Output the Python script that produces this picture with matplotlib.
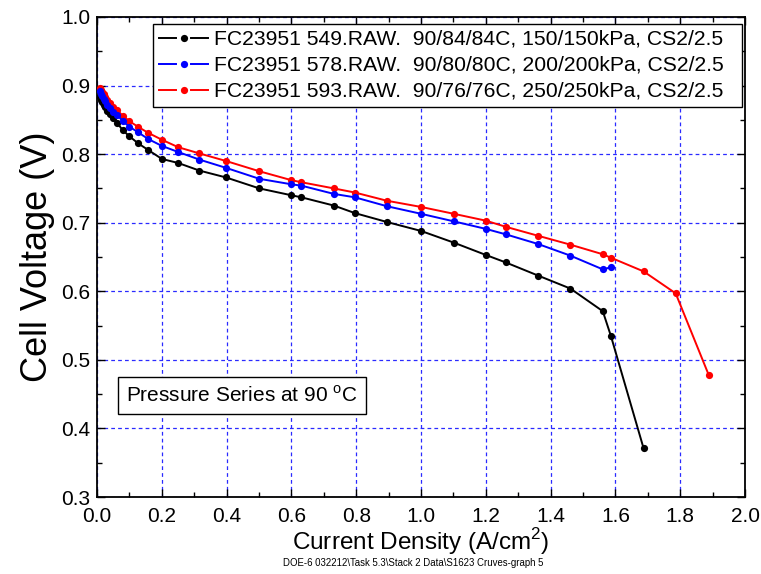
import matplotlib
matplotlib.use("Agg")
import matplotlib.pyplot as plt
from matplotlib.ticker import MultipleLocator
from matplotlib.legend_handler import HandlerBase
from matplotlib.lines import Line2D

plt.rcParams['font.family'] = ['Liberation Sans', 'DejaVu Sans']
plt.rcParams['mathtext.fontset'] = 'custom'
plt.rcParams['mathtext.rm'] = 'Liberation Sans'

# Current density (A/cm2) and cell voltage (V) for each pressure condition
current_549 = [0.010, 0.0126, 0.0158, 0.020, 0.025, 0.0316, 0.040, 0.050, 0.063, 0.079,
               0.100, 0.126, 0.158, 0.200, 0.251, 0.316, 0.398, 0.501, 0.600, 0.631,
               0.731, 0.796, 0.895, 1.000, 1.101, 1.200, 1.262, 1.361, 1.461, 1.561,
               1.586, 1.687]
voltage_549 = [0.883, 0.879, 0.876, 0.872, 0.868, 0.863, 0.858, 0.852, 0.845, 0.835,
               0.826, 0.816, 0.806, 0.793, 0.787, 0.776, 0.766, 0.750, 0.740, 0.737,
               0.725, 0.714, 0.701, 0.688, 0.671, 0.653, 0.642, 0.623, 0.604, 0.571,
               0.535, 0.371]

current_578 = [0.010, 0.0126, 0.0158, 0.020, 0.025, 0.0316, 0.040, 0.050, 0.063, 0.079,
               0.100, 0.126, 0.158, 0.200, 0.251, 0.316, 0.398, 0.501, 0.600, 0.631,
               0.731, 0.796, 0.895, 1.000, 1.101, 1.200, 1.262, 1.361, 1.461, 1.561,
               1.586]
voltage_578 = [0.892, 0.888, 0.885, 0.881, 0.877, 0.872, 0.867, 0.862, 0.857, 0.848,
               0.840, 0.832, 0.822, 0.812, 0.803, 0.792, 0.780, 0.764, 0.756, 0.754,
               0.742, 0.737, 0.724, 0.713, 0.702, 0.691, 0.683, 0.669, 0.652, 0.632,
               0.635]

current_593 = [0.010, 0.0126, 0.0158, 0.020, 0.025, 0.0316, 0.040, 0.050, 0.063, 0.079,
               0.100, 0.126, 0.158, 0.200, 0.251, 0.316, 0.398, 0.501, 0.600, 0.631,
               0.731, 0.796, 0.895, 1.000, 1.101, 1.200, 1.262, 1.361, 1.461, 1.561,
               1.586, 1.687, 1.786, 1.888]
voltage_593 = [0.897, 0.894, 0.891, 0.887, 0.883, 0.879, 0.874, 0.869, 0.864, 0.856,
               0.848, 0.840, 0.831, 0.821, 0.810, 0.801, 0.790, 0.775, 0.762, 0.759,
               0.750, 0.744, 0.732, 0.723, 0.713, 0.703, 0.694, 0.681, 0.668, 0.654,
               0.649, 0.629, 0.597, 0.478]

labels = [
    "FC23951 549.RAW.  90/84/84C, 150/150kPa, CS2/2.5",
    "FC23951 578.RAW.  90/80/80C, 200/200kPa, CS2/2.5",
    "FC23951 593.RAW.  90/76/76C, 250/250kPa, CS2/2.5",
]
colors = ["#000000", "#0000ff", "#ff0000"]

x_ticks = [0.0, 0.2, 0.4, 0.6, 0.8, 1.0, 1.2, 1.4, 1.6, 1.8, 2.0]
y_ticks = [0.3, 0.4, 0.5, 0.6, 0.7, 0.8, 0.9, 1.0]


class BrokenLineHandler(HandlerBase):
    """Legend key drawn as: line segment, marker, line segment."""

    def create_artists(self, legend, orig_handle, xdescent, ydescent,
                       width, height, fontsize, trans):
        y = height / 2.0 - ydescent
        x0 = -xdescent
        gap = width * 0.16
        mid = x0 + width / 2.0
        color = orig_handle.get_color()
        lw = orig_handle.get_linewidth()
        left = Line2D([x0, mid - gap], [y, y], color=color, lw=lw, transform=trans)
        right = Line2D([mid + gap, x0 + width], [y, y], color=color, lw=lw, transform=trans)
        dot = Line2D([mid], [y], color=color, marker='o', ms=orig_handle.get_markersize(),
                     markeredgewidth=0, linestyle='none', transform=trans)
        return [left, right, dot]


fig = plt.figure(figsize=(7.61, 5.74), dpi=100)
ax = fig.add_axes([0.1275, 0.134, 0.8515, 0.8365])

series = [(current_549, voltage_549), (current_593, voltage_593), (current_578, voltage_578)]
order = [0, 2, 1]
handles = {}
for (cx, vy), idx in zip(series, order):
    h, = ax.plot(cx, vy, color=colors[idx], lw=1.4, marker='o', ms=5.2,
                 markeredgewidth=0, zorder=3)
    handles[idx] = h

ax.set_xlim(0.0, 2.0)
ax.set_ylim(0.3, 1.0)
ax.set_xticks(x_ticks)
ax.set_yticks(y_ticks)
ax.set_xticklabels([f"{v:.1f}" for v in x_ticks])
ax.set_yticklabels([f"{v:.1f}" for v in y_ticks])
ax.xaxis.set_minor_locator(MultipleLocator(0.1))
ax.yaxis.set_minor_locator(MultipleLocator(0.05))
ax.tick_params(which='both', direction='in', top=True, right=True,
               labelsize=15, width=1.0)
ax.tick_params(axis='x', which='major', pad=7)
ax.tick_params(axis='y', which='major', pad=5)
ax.tick_params(which='major', length=6)
ax.tick_params(which='minor', length=3.5)
for sp in ax.spines.values():
    sp.set_linewidth(1.3)

ax.grid(True, which='major', color='#2a2aff', linestyle=(0, (3, 2.5)), linewidth=0.9)
ax.set_axisbelow(True)

ax.set_xlabel("Current Density (A/cm$^{2}$)", fontsize=17.5, labelpad=0)
ax.set_ylabel("Cell Voltage (V)", fontsize=26, labelpad=4)

# Legend rows carry a little trailing room before the right edge of the frame
leg_labels = [s + "  " for s in labels]
leg = ax.legend([handles[0], handles[1], handles[2]], leg_labels, loc='upper right',
                bbox_to_anchor=(0.9955, 0.986), fontsize=15.2, frameon=True,
                fancybox=False, edgecolor='black', framealpha=1, borderpad=0.3,
                labelspacing=0.33, handlelength=2.3, handletextpad=0.3,
                borderaxespad=0.0,
                handler_map={Line2D: BrokenLineHandler()})
leg.get_frame().set_linewidth(1.0)

ax.text(0.045, 0.19, "Pressure Series at 90 $^{\\mathrm{o}}$C", transform=ax.transAxes,
        fontsize=15, va='bottom', ha='left',
        bbox=dict(boxstyle='square,pad=0.4', facecolor='white', edgecolor='black',
                  linewidth=1.0))

fig.text(0.543, 0.019, "DOE-6 032212\\Task 5.3\\Stack 2 Data\\S1623 Cruves-graph 5",
         fontsize=6.9, ha='center', va='center')

fig.savefig("out.png", dpi=100)
